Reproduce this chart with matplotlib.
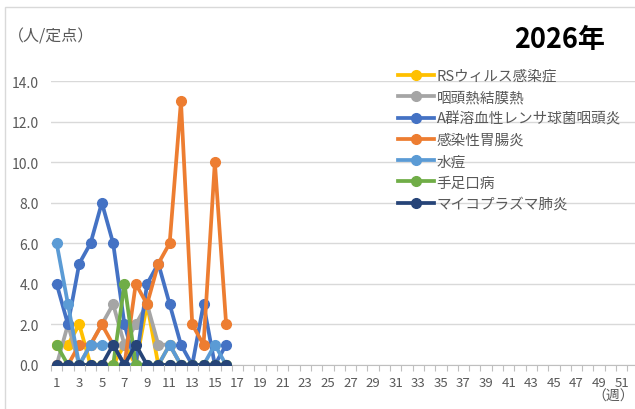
import numpy as np
import matplotlib.pyplot as plt
from matplotlib.patches import Rectangle

plt.rcParams['font.family'] = ['Noto Sans CJK JP', 'DejaVu Sans']

# weeks with reported data
weeks = list(range(1, 17))

# cases per sentinel site, 2026
rs_virus = [1, 1, 2, 0, 0, 0, 1, 0, 3, 0, 1, 0, 0, 0, 0, 0]
pharyngoconj = [0, 2, 0, 1, 2, 3, 1, 2, 3, 1, 1, 0, 0, 0, 0, 0]
strep_a = [4, 2, 5, 6, 8, 6, 2, 0, 4, 5, 3, 1, 0, 3, 0, 1]
gastro = [0, 0, 1, 1, 2, 1, 0, 4, 3, 5, 6, 13, 2, 1, 10, 2]
varicella = [6, 3, 0, 1, 1, 1, 0, 0, 0, 0, 1, 0, 0, 0, 1, 0]
hfmd = [1, 0, 0, 0, 0, 0, 4, 0, 0, 0, 0, 0, 0, 0, 0, 0]
mycoplasma = [0, 0, 0, 0, 0, 1, 0, 1, 0, 0, 0, 0, 0, 0, 0, 0]

labels = ['RSウィルス感染症', '咽頭熱結膜熱', 'A群溶血性レンサ球菌咽頭炎',
          '感染性胃腸炎', '水痘', '手足口病', 'マイコプラズマ肺炎']
colors = ['#FFC000', '#A5A5A5', '#4472C4', '#ED7D31', '#5B9BD5', '#70AD47', '#264478']
series = [rs_virus, pharyngoconj, strep_a, gastro, varicella, hfmd, mycoplasma]

x_ticks = list(range(1, 52, 2))
y_ticks = [0, 2, 4, 6, 8, 10, 12, 14]

text_gray = '#595959'

fig = plt.figure(figsize=(6.35, 4.1), dpi=100)
# chart area border
fig.patches.append(Rectangle((5 / 635, -0.1), 1.0, (410 - 8) / 410 + 0.1,
                             transform=fig.transFigure, fill=False,
                             edgecolor='#D9D9D9', linewidth=1.0))

ax = fig.add_axes([51 / 635, 44 / 410, 587.6 / 635, 284 / 410])

for vals, lab, col in zip(series, labels, colors):
    ax.plot(weeks, vals, '-o', color=col, label=lab, linewidth=2.7,
            markersize=7, solid_joinstyle='round')

ax.set_xlim(0.5, 52.5)
ax.set_ylim(0, 14)
ax.set_yticks(y_ticks)
ax.set_yticklabels(['%.1f' % v for v in y_ticks])
ax.set_xticks(x_ticks)
ax.set_xticklabels([str(v) for v in x_ticks])
ax.set_xticks(np.arange(0.5, 53, 1), minor=True)
ax.tick_params(axis='x', which='major', length=0, pad=8, labelsize=9.5, labelcolor=text_gray)
ax.tick_params(axis='x', which='minor', length=4, color='#BFBFBF', width=0.8)
ax.tick_params(axis='y', length=0, pad=9, labelsize=10, labelcolor=text_gray)

ax.grid(axis='y', color='#D9D9D9', linewidth=1.0)
ax.set_axisbelow(True)
for s in ['top', 'right', 'left']:
    ax.spines[s].set_visible(False)
ax.spines['bottom'].set_color('#BFBFBF')
ax.spines['bottom'].set_linewidth(0.8)
ax.spines['bottom'].set_zorder(0.5)

leg = fig.legend(loc='upper left', bbox_to_anchor=(392 / 635, 1 - 64 / 410),
                 frameon=False, fontsize=10.5, handlelength=2.5, handletextpad=0.15,
                 labelspacing=0.5, borderaxespad=0)
for t in leg.get_texts():
    t.set_color(text_gray)

fig.text(8 / 635, 1 - 37 / 410, '（人/定点）', fontsize=11.5, color=text_gray,
         va='center', ha='left')
fig.text(605 / 635, 1 - 40 / 410, '2026年', fontsize=19.5, fontweight='bold',
         color='black', va='center', ha='right')
fig.text(613 / 635, 1 - 397 / 410, '（週）', fontsize=10, color=text_gray,
         va='center', ha='center')

fig.savefig('out.png', dpi=100)
